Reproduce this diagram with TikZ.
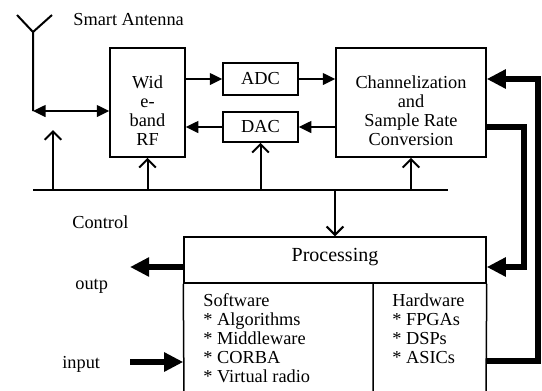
\documentclass[tikz,border=0pt]{standalone}
\usepackage{fontspec}
\setmainfont{Liberation Serif}
\usetikzlibrary{arrows.meta,positioning}
\tikzset{
  blk/.style={draw, line width=0.9pt, align=center, inner sep=1pt},
  txt/.style={align=center, inner sep=0},
  thin/.style={line width=1.2pt},
  fwd/.style={thin, -{Triangle[length=7.5pt,width=7pt]}},
  bus/.style={thin, -{Straight Barb[length=5pt,width=10pt,line width=1.2pt]}},
  fat/.style={line width=3.3pt, -{Triangle[length=11.5pt,width=11pt]}},
}
\begin{document}
\begin{tikzpicture}[x=0.6pt,y=-0.6pt,font=\fontsize{11}{11.4}\selectfont]
      \useasboundingbox (0,0) rectangle (542,390);
      \node[blk, minimum width=45pt, minimum height=65.4pt] (rf) at (147.5,102.5) {};
      \node[txt] (rft) at ([yshift=-5pt]rf.center) {Wid\\e-\\band\\RF};
      \node[blk, minimum width=45pt, minimum height=19pt] (adc) at (260.5,79) {ADC};
      \node[blk, minimum width=45pt, minimum height=18pt] (dac) at (260.5,127) {DAC};
      \node[blk, minimum width=90pt, minimum height=65.4pt] (chan) at (411,102.5) {};
      \node[txt] (chant) at ([yshift=-5pt]chan.center) {Channelization\\and\\Sample Rate\\Conversion};
      \node[blk, minimum width=181.2pt, minimum height=27.6pt] (proc) at (335,260) {};
      \node[txt, font=\fontsize{12}{14}\selectfont] (proct) at ([yshift=2pt]proc.center) {Processing};
      \draw[line width=0.9pt] (proc.south west) -- (184,395) (proc.south east) -- (486,395) (373,283) -- (373,395);
      \node[anchor=north west, align=left, inner sep=0] (sw) at (203,293) {Software\\* Algorithms\\* Middleware\\* CORBA\\* Virtual radio};
      \node[anchor=north west, align=left, inner sep=0] (hw) at (392,293) {Hardware\\* FPGAs\\* DSPs\\* ASICs};
      % labels
      \node[anchor=west, inner sep=0] (lant) at (73,20) {Smart Antenna};
      \node[anchor=west, inner sep=0] (lctl) at (72,222) {Control};
      \node[anchor=west, inner sep=0] (lout) at (75,286) {outp};
      \node[anchor=west, inner sep=0] (lin) at (62,364) {input};
      % antenna
      \coordinate (tip) at (33,32);
      \coordinate (foot) at (33,111);
      \draw[thin] (17,15) -- (tip) -- (52,15) (tip) -- (foot);
      \draw[thin, {Triangle[length=7.5pt,width=7pt]}-{Triangle[length=7.5pt,width=7pt]}] (foot) -- (rf.west |- foot);
      % control bus
      \coordinate (bl) at (33,190);
      \coordinate (br) at (448,190);
      \coordinate (free) at (53,130);
      \draw[thin] (bl) -- (br);
      \draw[bus] (free |- bl) -- (free);
      \draw[bus] (rf.south |- bl) -- (rf.south);
      \draw[bus] (dac.south |- bl) -- (dac.south);
      \draw[bus] (chan.south |- bl) -- (chan.south);
      \draw[bus] (proc.north |- bl) -- (proc.north);
      % signal path
      \draw[fwd] (rf.east |- adc) -- (adc.west);
      \draw[fwd] (adc.east) -- (chan.west |- adc);
      \draw[fwd] (chan.west |- dac) -- (dac.east);
      \draw[fwd] (dac.west) -- (rf.east |- dac);
      % thick links
      \coordinate (out) at (130,267);
      \coordinate (in) at (130,362);
      \coordinate (r1) at (524,267);
      \coordinate (r2) at (538,361);
      \draw[fat] (proc.west |- out) -- (out);
      \draw[fat] (in) -- (proc.west |- in);
      \draw[fat] (chan.east |- dac) -| (r1) -- (proc.east |- r1);
      \draw[fat] (proc.east |- r2) -- (r2) |- (chan.east |- adc);
    \end{tikzpicture}
\end{document}
